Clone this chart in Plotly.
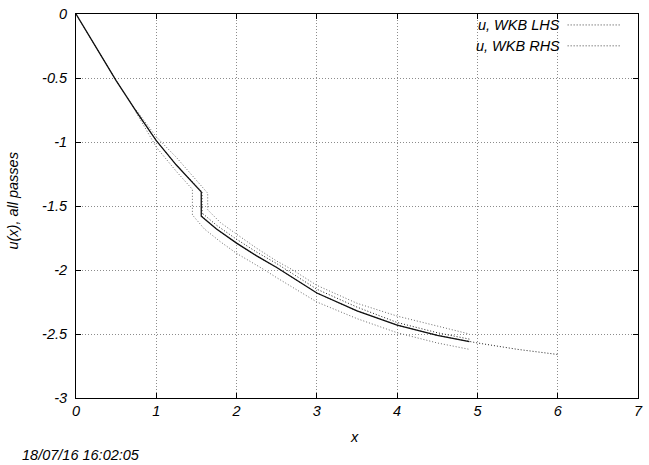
import plotly.graph_objects as go

# ---- data ----
x_main = [0, 0.25, 0.5, 0.75, 1.0, 1.25, 1.5, 1.56, 1.56, 1.75, 2.0, 2.25, 2.5, 2.75, 3.0, 3.5, 4.0, 4.5, 4.9]
y_main = [0, -0.26, -0.52, -0.76, -0.99, -1.18, -1.35, -1.39, -1.58, -1.68, -1.79, -1.89, -1.98, -2.08, -2.18, -2.32, -2.43, -2.51, -2.56]

x_long = [0, 0.25, 0.5, 0.75, 1.0, 1.25, 1.5, 1.57, 1.57, 1.75, 2.0, 2.25, 2.5, 2.75, 3.0, 3.5, 4.0, 4.5, 5.0, 5.5, 6.0]
y_long = [0, -0.26, -0.52, -0.76, -0.99, -1.18, -1.35, -1.39, -1.58, -1.68, -1.79, -1.89, -1.98, -2.08, -2.18, -2.32, -2.43, -2.51, -2.57, -2.62, -2.66]

x_near = [1.58, 1.75, 2.0, 2.25, 2.5, 2.75, 3.0, 3.5, 4.0, 4.5, 4.9]
y_near = [-1.56, -1.65, -1.76, -1.86, -1.95, -2.05, -2.15, -2.29, -2.41, -2.49, -2.54]

x_upper = [0.75, 1.0, 1.25, 1.5, 1.64, 1.64, 1.8, 2.0, 2.25, 2.5, 2.7, 3.0, 3.5, 4.0, 4.5, 4.9]
y_upper = [-0.75, -0.96, -1.12, -1.30, -1.40, -1.53, -1.63, -1.72, -1.83, -1.93, -2.0, -2.12, -2.26, -2.36, -2.44, -2.50]

x_lower = [0.75, 1.0, 1.25, 1.45, 1.45, 1.6, 1.8, 2.0, 2.35, 2.5, 3.0, 3.5, 4.0, 4.5, 4.9]
y_lower = [-0.77, -1.04, -1.23, -1.37, -1.57, -1.68, -1.78, -1.87, -2.0, -2.06, -2.25, -2.38, -2.49, -2.57, -2.62]

x_ticks = [0, 1, 2, 3, 4, 5, 6, 7]
y_ticks = [0, -0.5, -1, -1.5, -2, -2.5, -3]
y_ticktext = ["0", "-0.5", "-1", "-1.5", "-2", "-2.5", "-3"]
legend_labels = ["u, WKB LHS", "u, WKB RHS"]
timestamp = "18/07/16 16:02:05"

FONT = "Liberation Sans, Arial, sans-serif"
FS = 14.5
DOT = "1px,2px"
fig = go.Figure()

fig.add_trace(go.Scatter(x=x_upper, y=y_upper, mode="lines",
                         line=dict(color="#6a6a6a", width=1, dash=DOT), showlegend=False))
fig.add_trace(go.Scatter(x=x_lower, y=y_lower, mode="lines",
                         line=dict(color="#6a6a6a", width=1, dash=DOT), showlegend=False))
fig.add_trace(go.Scatter(x=x_near, y=y_near, mode="lines",
                         line=dict(color="#222222", width=1, dash=DOT), showlegend=False))
fig.add_trace(go.Scatter(x=x_long, y=y_long, mode="lines",
                         line=dict(color="#222222", width=1, dash=DOT), showlegend=False))
fig.add_trace(go.Scatter(x=x_main, y=y_main, mode="lines",
                         line=dict(color="#111111", width=1.3), showlegend=False))

axis_common = dict(
    showline=True, linecolor="black", linewidth=1, mirror="ticks",
    ticks="inside", ticklen=5, tickcolor="black",
    showgrid=True, gridcolor="#8c8c8c", griddash=DOT, gridwidth=1,
    zeroline=False, ticklabeloverflow="allow",
    tickfont=dict(family=FONT, size=FS, color="black", style="italic"),
)

fig.update_xaxes(range=[0, 7], tickvals=x_ticks, **axis_common)
fig.update_yaxes(range=[-3, 0], tickvals=y_ticks, ticktext=y_ticktext, ticklabelstandoff=5, **axis_common)

L, R, T, B = 76, 6, 12, 67
W, H = 649, 465
pw, ph = W - L - R, H - T - B

def px(xp):
    return (xp - L) / pw

def py(yp):
    return 1 - (yp - T) / ph

annotations = []
shapes = []
for i, lab in enumerate(legend_labels):
    yy = py(23 + 21 * i)
    annotations.append(dict(x=px(566), y=yy, xref="paper", yref="paper", text=lab,
                            showarrow=False, xanchor="right", yanchor="middle",
                            font=dict(family=FONT, size=FS, color="black", style="italic")))
    shapes.append(dict(type="line", xref="paper", yref="paper", x0=px(572), x1=px(626),
                       y0=yy, y1=yy, line=dict(color="#444444", width=1, dash=DOT)))

annotations.append(dict(x=px(357), y=py(437), xref="paper", yref="paper", text="x",
                        showarrow=False, xanchor="center", yanchor="middle",
                        font=dict(family=FONT, size=FS, color="black", style="italic")))
annotations.append(dict(x=px(12), y=py(200), xref="paper", yref="paper", text="u(x), all passes",
                        showarrow=False, xanchor="center", yanchor="middle", textangle=-90,
                        font=dict(family=FONT, size=FS, color="black", style="italic")))
annotations.append(dict(x=px(20), y=py(455), xref="paper", yref="paper", text=timestamp,
                        showarrow=False, xanchor="left", yanchor="middle",
                        font=dict(family=FONT, size=FS, color="black", style="italic")))

fig.update_layout(
    width=W, height=H,
    margin=dict(l=L, r=R, t=T, b=B),
    paper_bgcolor="white", plot_bgcolor="white",
    showlegend=False,
    annotations=annotations, shapes=shapes,
)

fig.write_html("out.html", config={"displayModeBar": False},
               post_script="document.body.style.margin='0px';document.body.style.overflow='hidden';")
